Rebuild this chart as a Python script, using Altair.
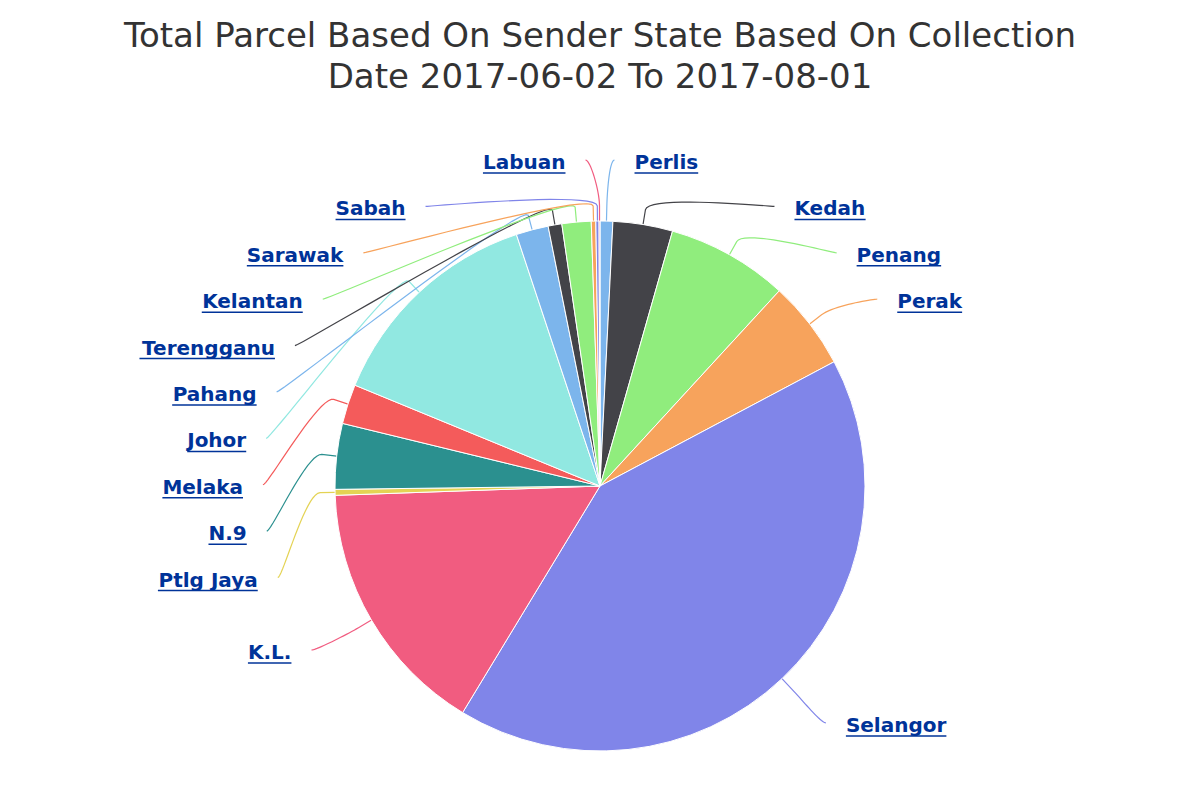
import math
import altair as alt
import pandas as pd

# ---------------- data ----------------
states = ["Perlis", "Kedah", "Penang", "Perak", "Selangor", "K.L.", "Ptlg Jaya", "N.9",
          "Melaka", "Johor", "Pahang", "Terengganu", "Kelantan", "Sarawak", "Sabah", "Labuan"]
parcels = [28, 131, 267, 195, 1493, 568, 13, 144, 87, 493, 71, 30, 64, 10, 7, 2]
colors = ["#7cb5ec", "#434348", "#90ed7d", "#f7a35c", "#8085e9", "#f15c80", "#e4d354", "#2b908f",
          "#f45b5b", "#91e8e1", "#7cb5ec", "#434348", "#90ed7d", "#f7a35c", "#8085e9", "#f15c80"]
title_lines = ["Total Parcel Based On Sender State Based On Collection",
               "Date 2017-06-02 To 2017-08-01"]

# ---------------- layout ----------------
PAD_TOP = 91
W, H = 1184, 784 - PAD_TOP
CX, CY, R = 592, 387, 265
LABEL_R = 330          # natural label radius
SLOT = 46.4            # vertical spacing of labels
TOP_Y = CY - 323
BOTTOM_Y = CY + 330
ELL_A, ELL_B = 337, 323.3   # label anchor ellipse
GAP = 20
BREAK = 15
FS = 20
LINK = "#003399"

# DejaVu Sans Bold advance widths (em) for underline length
CW = {" ": .348, ".": .381, "9": .696, "J": .372, "K": .776, "L": .637, "M": .995, "N": .837,
      "P": .733, "S": .720, "T": .682, "a": .675, "b": .716, "d": .716, "e": .678, "g": .716,
      "h": .712, "i": .343, "k": .665, "l": .343, "n": .712, "o": .687, "r": .493, "s": .595,
      "t": .478, "u": .712, "w": .924, "y": .652}


def text_w(s):
    return sum(CW.get(c, .65) for c in s) * FS


total = float(sum(parcels))
mids, cum = [], 0.0
for v in parcels:
    mids.append(2 * math.pi * (cum + v / 2) / total)
    cum += v


def distribute(items):
    clusters = [[it] for it in items]

    def start(c):
        n = len(c)
        s = sum(it[1] for it in c) / n - (n - 1) * SLOT / 2
        s = max(s, TOP_Y)
        s = min(s, BOTTOM_Y - (n - 1) * SLOT)
        return s

    changed = True
    while changed:
        changed = False
        for k in range(len(clusters) - 1):
            a, b = clusters[k], clusters[k + 1]
            if start(a) + len(a) * SLOT > start(b):
                clusters[k] = a + b
                del clusters[k + 1]
                changed = True
                break
    out = {}
    for c in clusters:
        s = start(c)
        for j, it in enumerate(c):
            out[it[0]] = s + j * SLOT
    return out


right, left = [], []
for i, m in enumerate(mids):
    ny = CY - LABEL_R * math.cos(m)
    (right if math.sin(m) >= 0 else left).append((i, ny))
slot_y = {}
slot_y.update(distribute(sorted(right, key=lambda t: t[1])))
slot_y.update(distribute(sorted(left, key=lambda t: t[1])))

conn_rows, lab_rows = [], []
for i, m in enumerate(mids):
    is_right = math.sin(m) >= 0
    sgn = 1 if is_right else -1
    ys = slot_y[i]
    ly = ys - 3
    q = (ys - CY) / ELL_B
    dx = ELL_A * math.sqrt(max(1 - q * q, 0.0))
    lx = CX + sgn * dx
    tx_, ty_ = CX + R * math.sin(m), CY - R * math.cos(m)
    bx, by = CX + (R + BREAK) * math.sin(m), CY - (R + BREAK) * math.cos(m)
    p0 = (lx, ly)
    p1 = (lx - sgn * 5, ly)
    p2 = (2 * bx - tx_, 2 * by - ty_)
    p3 = (bx, by)
    seq = 0
    for k in range(21):
        t = k / 20
        u = 1 - t
        px = u ** 3 * p0[0] + 3 * u * u * t * p1[0] + 3 * u * t * t * p2[0] + t ** 3 * p3[0]
        py = u ** 3 * p0[1] + 3 * u * u * t * p1[1] + 3 * u * t * t * p2[1] + t ** 3 * p3[1]
        conn_rows.append({"state": states[i], "seq": seq, "px": px, "py": py})
        seq += 1
    conn_rows.append({"state": states[i], "seq": seq, "px": tx_, "py": ty_})

    tx = lx + sgn * GAP
    w = text_w(states[i])
    lab_rows.append({"state": states[i], "side": "right" if is_right else "left",
                     "tx": tx, "ty": ys,
                     "ux1": tx if is_right else tx - w,
                     "ux2": tx + w if is_right else tx,
                     "uy": ys + 10})

pie_df = pd.DataFrame({"state": states, "parcels": parcels, "idx": list(range(len(states)))})
conn_df = pd.DataFrame(conn_rows)
lab_df = pd.DataFrame(lab_rows)

color_scale = alt.Scale(domain=states, range=colors)

pie = alt.Chart(pie_df).mark_arc(outerRadius=R, stroke="white", strokeWidth=1).encode(
    theta=alt.Theta("parcels:Q", stack=True),
    color=alt.Color("state:N", scale=color_scale, legend=None),
    order=alt.Order("idx:Q"),
    x=alt.value(CX), y=alt.value(CY),
    tooltip=["state:N", "parcels:Q"],
)

connectors = alt.Chart(conn_df).mark_line(strokeWidth=1.2, interpolate="linear").encode(
    x=alt.X("px:Q", scale=None, axis=None),
    y=alt.Y("py:Q", scale=None, axis=None),
    detail="state:N",
    order="seq:Q",
    color=alt.Color("state:N", scale=color_scale, legend=None),
)


def label_layer(side, align):
    return alt.Chart(lab_df).transform_filter(alt.datum.side == side).mark_text(
        align=align, baseline="middle", font="DejaVu Sans", fontSize=FS, fontWeight="bold", color=LINK
    ).encode(
        x=alt.X("tx:Q", scale=None, axis=None),
        y=alt.Y("ty:Q", scale=None, axis=None),
        text="state:N",
    )


underline = alt.Chart(lab_df).mark_rule(color=LINK, strokeWidth=1.5).encode(
    x=alt.X("ux1:Q", scale=None, axis=None),
    x2="ux2:Q",
    y=alt.Y("uy:Q", scale=None, axis=None),
)

chart = alt.layer(
    connectors, pie, label_layer("right", "left"), label_layer("left", "right"), underline
).properties(
    width=W, height=H,
    title=alt.TitleParams(text=title_lines, fontSize=34, font="DejaVu Sans", fontWeight="normal",
                          color="#333333", lineHeight=41, anchor="middle", offset=4),
    padding={"top": PAD_TOP, "left": 0, "right": 0, "bottom": 0},
    autosize=alt.AutoSizeParams(type="none"),
).configure_view(stroke=None)

chart.save("out.html", embed_options={"renderer": "svg", "actions": False})
